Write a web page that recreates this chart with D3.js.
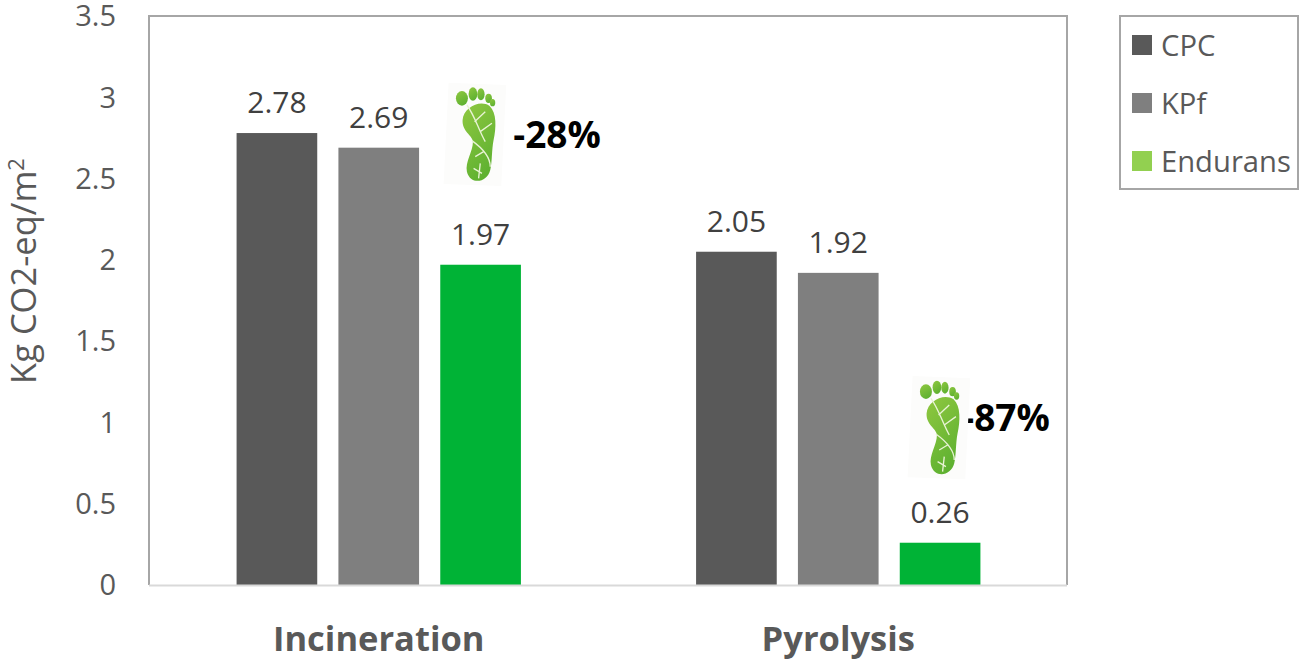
<!DOCTYPE html>
<html>
<head>
<meta charset="utf-8">
<script src="https://cdn.jsdelivr.net/npm/d3@7"></script>
<style>
  html, body { margin: 0; background: #fff; }
  svg { display: block; font-family: "Open Sans", sans-serif; }
</style>
</head>
<body>
<svg id="chart" width="1299" height="663"></svg>
<script>
const categories = ['Incineration', 'Pyrolysis']
const seriesNames = ['CPC', 'KPf', 'Endurans']
const cpcValues = [2.78, 2.05]
const kpfValues = [2.69, 1.92]
const enduransValues = [1.97, 0.26]
const yTicks = [0, 0.5, 1, 1.5, 2, 2.5, 3, 3.5]
const barColors = ['#595959', '#7f7f7f', '#00b336']
const legendColors = ['#595959', '#7f7f7f', '#92d050']
const reductionLabels = ['-28%', '-87%']

const allValues = [cpcValues, kpfValues, enduransValues]
const textColor = '#595959'

const left = 149
const right = 1067
const top_ = 16
const bottom = 585

const svg = d3.select('#chart')

const x0 = d3.scaleBand().domain(categories).range([left, right + 1])
const x1 = d3.scaleBand()
  .domain(seriesNames)
  .range([0, x0.bandwidth()])
  .paddingInner(0.208)
  .paddingOuter(0.86)
const y = d3.scaleLinear().domain([0, 3.5]).range([bottom, top_])

// plot frame
svg.append('path')
  .attr('d', `M${left},${bottom}V${top_}H${right}V${bottom}`)
  .attr('fill', 'none')
  .attr('stroke', '#a6a6a6')
  .attr('stroke-width', 2)

// y axis
const yAxis = svg.append('g')
  .attr('transform', `translate(${left},0.5)`)
  .call(d3.axisLeft(y).tickValues(yTicks).tickSize(0).tickPadding(33).tickFormat(d => d))
yAxis.select('.domain').remove()
yAxis.selectAll('text')
  .attr('fill', textColor)
  .style('font-family', '"Open Sans", sans-serif')
  .style('font-size', '29px')

// bars and labels
seriesNames.forEach((name, s) => {
  const g = svg.append('g')
  g.selectAll('rect')
    .data(allValues[s])
    .join('rect')
    .attr('x', (d, i) => x0(categories[i]) + x1(name))
    .attr('y', d => y(d))
    .attr('width', x1.bandwidth())
    .attr('height', d => y(0) - y(d))
    .attr('fill', barColors[s])
  g.selectAll('text')
    .data(allValues[s])
    .join('text')
    .attr('x', (d, i) => x0(categories[i]) + x1(name) + x1.bandwidth() / 2)
    .attr('y', d => y(d) - 20)
    .attr('text-anchor', 'middle')
    .attr('fill', '#404040')
    .style('font-size', '30px')
    .text(d => d.toFixed(2))
})

// baseline
svg.append('line')
  .attr('x1', left).attr('x2', right)
  .attr('y1', bottom + 0.5).attr('y2', bottom + 0.5)
  .attr('stroke', '#d9d9d9')
  .attr('stroke-width', 2)

// category labels
svg.selectAll('.cat')
  .data(categories)
  .join('text')
  .attr('class', 'cat')
  .attr('x', d => x0(d) + x0.bandwidth() / 2)
  .attr('y', 651)
  .attr('text-anchor', 'middle')
  .attr('fill', textColor)
  .style('font-size', '34.5px')
  .style('font-weight', 700)
  .text(d => d)

// y title
svg.append('text')
  .attr('transform', 'translate(36,271) rotate(-90)')
  .attr('text-anchor', 'middle')
  .attr('fill', textColor)
  .style('font-size', '34.5px')
  .text('Kg CO2-eq/m')
  .append('tspan')
  .attr('dy', -12)
  .style('font-size', '22px')
  .text('2')

// footprint icon, local units are 3x screen pixels
const defs = svg.append('defs')
const grad = defs.append('linearGradient')
  .attr('id', 'leaf').attr('x1', 0.2).attr('y1', 0).attr('x2', 0.7).attr('y2', 1)
grad.append('stop').attr('offset', '0%').attr('stop-color', '#8cc63f')
grad.append('stop').attr('offset', '100%').attr('stop-color', '#5cb030')

function drawFoot (g) {
  g.append('path')
    .attr('d', 'M55,38 L228,45 L213,348 L40,342 Z')
    .attr('fill', '#fcfcfb')
  const toes = [[95, 85, 18, 22], [128, 72, 13, 20], [152, 73, 11, 18], [175, 85, 10, 14], [187, 98, 8, 11]]
  g.selectAll('ellipse')
    .data(toes)
    .join('ellipse')
    .attr('cx', d => d[0]).attr('cy', d => d[1])
    .attr('rx', d => d[2]).attr('ry', d => d[3])
    .attr('fill', 'url(#leaf)')
  g.append('path')
    .attr('d', 'M97,150 C100,112 150,88 178,108 C200,128 198,175 190,210 C184,240 186,275 180,300 C170,340 120,345 110,305 C104,275 128,245 128,215 C126,195 95,185 97,150 Z')
    .attr('fill', 'url(#leaf)')
  // white veins
  g.append('path')
    .attr('d', 'M110,105 C135,140 145,180 165,215 M125,212 C150,230 180,260 180,290 M133,155 L165,125 M150,185 L185,160 M135,260 L160,245 M130,295 L155,310 M150,280 L145,325')
    .attr('fill', 'none')
    .attr('stroke', '#e8f3d4')
    .attr('stroke-width', 4)
}

// the pyrolysis label runs under the icon, so the text goes down first
categories.forEach((cat, i) => {
  const barX = x0(cat) + x1('Endurans')
  const footX = barX + (i === 0 ? -10 : -5.5)
  const footY = i === 0 ? 70 : 363.3
  const labelX = barX + (i === 0 ? 73 : 62.5)
  const labelY = i === 0 ? 148 : 431
  svg.append('text')
    .attr('x', labelX)
    .attr('y', labelY)
    .attr('fill', '#000')
    .style('font-size', '37px')
    .style('font-weight', 700)
    .text(reductionLabels[i])
  const foot = svg.append('g')
    .attr('transform', `translate(${footX},${footY}) scale(0.3333)`)
  drawFoot(foot)
})

// legend
svg.append('rect')
  .attr('x', 1120).attr('y', 16)
  .attr('width', 178).attr('height', 173)
  .attr('fill', '#fff')
  .attr('stroke', '#a6a6a6')
  .attr('stroke-width', 2)

const legendY = d3.scalePoint().domain(seriesNames).range([45, 161])
const legend = svg.selectAll('.legend')
  .data(seriesNames)
  .join('g')
  .attr('class', 'legend')
  .attr('transform', d => `translate(1132,${legendY(d)})`)
legend.append('rect')
  .attr('y', -10)
  .attr('width', 20).attr('height', 20)
  .attr('fill', (d, i) => legendColors[i])
legend.append('text')
  .attr('x', 29)
  .attr('y', 11)
  .attr('fill', textColor)
  .style('font-size', '29.2px')
  .text(d => d)
</script>
</body>
</html>
